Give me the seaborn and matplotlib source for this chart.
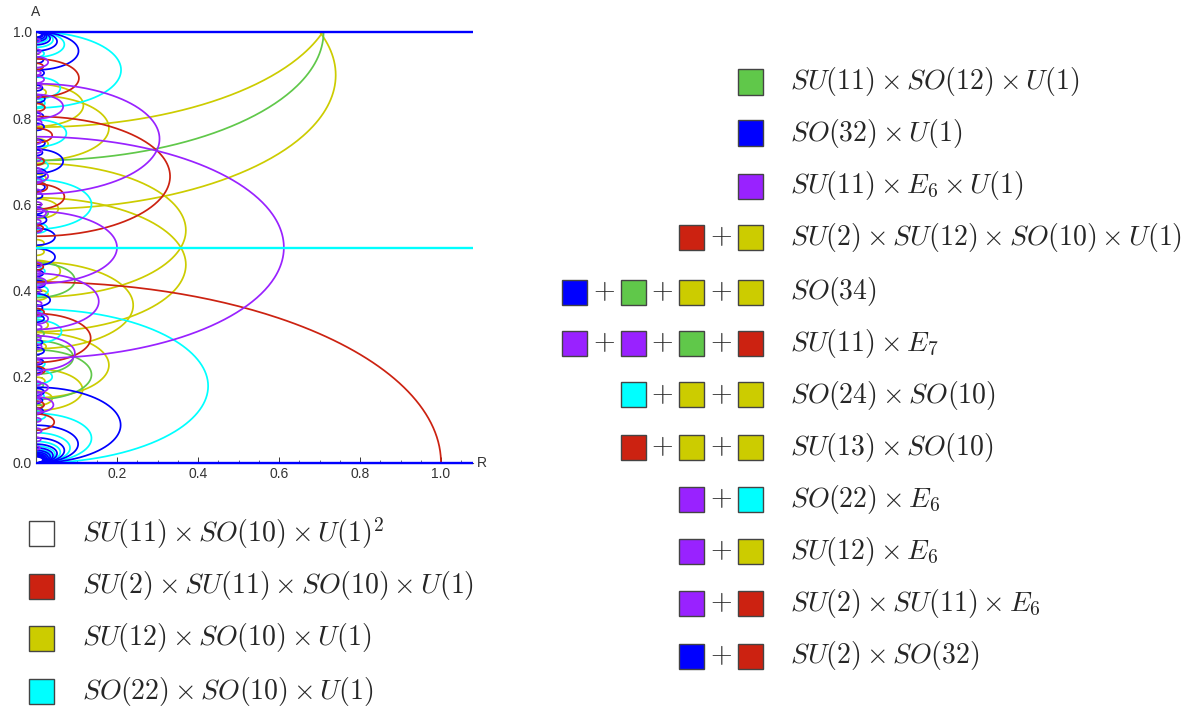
import numpy as np
import pandas as pd
import matplotlib
matplotlib.use("Agg")
import matplotlib.pyplot as plt
from matplotlib.patches import Rectangle
from matplotlib.ticker import MultipleLocator, FixedLocator
import seaborn as sns

# ---- data: (centre A, reach in R) of every half-ellipse ----
ASPECT = 0.42   # vertical half-axis / horizontal half-axis

blue_arcs = [
    (0.088, 0.209), (0.044, 0.104), (0.029, 0.070), (0.022, 0.052), (0.0176, 0.042),
    (0.0147, 0.035), (0.0126, 0.030), (0.011, 0.026), (0.0098, 0.023), (0.0088, 0.021),
    (0.008, 0.019), (0.0073, 0.017),
    (0.956, 0.105), (0.978, 0.052), (0.985, 0.035), (0.989, 0.026), (0.991, 0.021),
    (0.993, 0.017), (0.994, 0.014),
    (0.700, 0.067), (0.525, 0.047), (0.478, 0.047), (0.378, 0.035), (0.742, 0.022),
    (0.673, 0.025), (0.640, 0.022), (0.564, 0.026), (0.260, 0.020), (0.935, 0.018),
    (0.905, 0.020), (0.870, 0.016), (0.845, 0.022), (0.805, 0.018), (0.780, 0.020),
    (0.720, 0.016), (0.620, 0.016), (0.585, 0.018), (0.440, 0.018), (0.415, 0.022),
    (0.360, 0.016), (0.335, 0.020), (0.280, 0.016), (0.235, 0.018), (0.215, 0.016),
    (0.165, 0.020), (0.145, 0.016), (0.120, 0.018),
]
cyan_arcs = [
    (0.1785, 0.425), (0.0575, 0.137), (0.035, 0.084), (0.025, 0.060), (0.0197, 0.047),
    (0.016, 0.038), (0.0134, 0.032), (0.0113, 0.027), (0.0092, 0.022),
    (0.912, 0.210), (0.971, 0.070), (0.982, 0.042), (0.987, 0.030), (0.990, 0.024),
    (0.600, 0.137), (0.765, 0.075), (0.305, 0.063), (0.200, 0.040), (0.870, 0.060),
    (0.400, 0.030), (0.545, 0.028), (0.690, 0.030), (0.950, 0.020), (0.835, 0.022),
    (0.655, 0.020), (0.445, 0.022), (0.345, 0.020), (0.230, 0.022), (0.155, 0.020),
    (0.110, 0.024),
]
red_arcs = [
    (0.000, 1.000), (0.665, 0.331), (0.893, 0.106), (0.290, 0.135), (0.618, 0.070),
    (0.760, 0.040), (0.095, 0.045), (0.920, 0.018), (0.825, 0.022), (0.700, 0.020),
    (0.545, 0.018), (0.455, 0.018), (0.350, 0.020), (0.215, 0.022), (0.135, 0.020),
    (0.640, 0.028),
]
purple_arcs = [
    (0.500, 0.612), (0.752, 0.305), (0.500, 0.200), (0.375, 0.155), (0.255, 0.096),
    (0.827, 0.067), (0.135, 0.043), (0.930, 0.030), (0.665, 0.030), (0.335, 0.030),
    (0.580, 0.025), (0.420, 0.025), (0.175, 0.030), (0.890, 0.020),
    (0.980, 0.010), (0.955, 0.012), (0.905, 0.012), (0.875, 0.014), (0.850, 0.012),
    (0.810, 0.012), (0.790, 0.014), (0.745, 0.012), (0.725, 0.014), (0.705, 0.012),
    (0.680, 0.012), (0.655, 0.014), (0.630, 0.012), (0.600, 0.014), (0.560, 0.012),
    (0.540, 0.014), (0.460, 0.014), (0.440, 0.012), (0.400, 0.012), (0.370, 0.014),
    (0.345, 0.012), (0.315, 0.014), (0.290, 0.012), (0.270, 0.014), (0.235, 0.012),
    (0.210, 0.014), (0.185, 0.012), (0.160, 0.014), (0.145, 0.012), (0.120, 0.014),
    (0.100, 0.012), (0.075, 0.014), (0.055, 0.012), (0.035, 0.010),
]
green_arcs = [
    (1.000, 0.710), (0.424, 0.096), (0.205, 0.137), (0.245, 0.092), (0.580, 0.030),
    (0.700, 0.022), (0.830, 0.018), (0.300, 0.020), (0.180, 0.018), (0.130, 0.016),
    (0.420, 0.020),
]
yellow_arcs = [
    (0.900, 0.740), (1.090, 0.740), (0.540, 0.370), (0.460, 0.370), (0.366, 0.240),
    (0.227, 0.180), (0.830, 0.117), (0.777, 0.180), (0.170, 0.115), (0.590, 0.055),
    (0.445, 0.060), (0.150, 0.040), (0.860, 0.025), (0.740, 0.030), (0.660, 0.025),
    (0.510, 0.020), (0.490, 0.020), (0.390, 0.030), (0.320, 0.030), (0.270, 0.025),
    (0.190, 0.022),
]

flat_levels = [0.0, 0.5, 1.0]
flat_colors = ["blue", "cyan", "blue"]

colors = {
    "blue": "#0000FF", "cyan": "#00FFFF", "red": "#CC2211",
    "purple": "#9922FF", "green": "#60C84A", "yellow": "#CCCC00",
}

# right-hand legend: colour squares -> group
legend_right_boxes = [
    ["green"], ["blue"], ["purple"], ["red", "yellow"],
    ["blue", "green", "yellow", "yellow"], ["purple", "purple", "green", "red"],
    ["cyan", "yellow", "yellow"], ["red", "yellow", "yellow"],
    ["purple", "cyan"], ["purple", "yellow"], ["purple", "red"], ["blue", "red"],
]
legend_right_text = [
    r"$SU(11)\times SO(12)\times U(1)$",
    r"$SO(32)\times U(1)$",
    r"$SU(11)\times E_6\times U(1)$",
    r"$SU(2)\times SU(12)\times SO(10)\times U(1)$",
    r"$SO(34)$",
    r"$SU(11)\times E_7$",
    r"$SO(24)\times SO(10)$",
    r"$SU(13)\times SO(10)$",
    r"$SO(22)\times E_6$",
    r"$SU(12)\times E_6$",
    r"$SU(2)\times SU(11)\times E_6$",
    r"$SU(2)\times SO(32)$",
]
legend_left_boxes = ["white", "red", "yellow", "cyan"]
legend_left_text = [
    r"$SU(11)\times SO(10)\times U(1)^2$",
    r"$SU(2)\times SU(11)\times SO(10)\times U(1)$",
    r"$SU(12)\times SO(10)\times U(1)$",
    r"$SO(22)\times SO(10)\times U(1)$",
]

# ---- build the curves ----
arc_sets = {"yellow": yellow_arcs, "green": green_arcs, "cyan": cyan_arcs,
            "blue": blue_arcs, "red": red_arcs, "purple": purple_arcs}
t = np.linspace(-np.pi / 2, np.pi / 2, 241)
frames = []
for fam, arcs in arc_sets.items():
    for i, (c, a) in enumerate(arcs):
        frames.append(pd.DataFrame({
            "R": a * np.cos(t),
            "A": c + ASPECT * a * np.sin(t),
            "family": fam,
            "arc": f"{fam}{i}",
        }))
df = pd.concat(frames, ignore_index=True)

sns.set_style("ticks")
plt.rcParams["font.family"] = ["Liberation Sans", "DejaVu Sans"]
plt.rcParams["mathtext.fontset"] = "cm"

W, H = 1200, 706
fig = plt.figure(figsize=(W / 100, H / 100), dpi=100)
x_max = 1.079
ax = fig.add_axes([36 / W, (H - 463) / H, (473 - 36) / W, (463 - 32) / H])

sns.lineplot(data=df, x="R", y="A", hue="family", units="arc", estimator=None,
             sort=False, palette=colors, hue_order=list(arc_sets.keys()),
             legend=False, linewidth=1.25, ax=ax)
for lev, col in zip(flat_levels, flat_colors):
    ax.hlines(lev, 0, x_max, color=colors[col], lw=1.7, clip_on=False, zorder=5)

ax.set_xlim(0, x_max)
ax.set_ylim(0, 1)
ax.set_xlabel("")
ax.set_ylabel("")
sns.despine(ax=ax)
for s in ("left", "bottom"):
    ax.spines[s].set_linewidth(0.8)
    ax.spines[s].set_color("#555555")
ax.xaxis.set_major_locator(FixedLocator([0.2, 0.4, 0.6, 0.8, 1.0]))
ax.xaxis.set_minor_locator(MultipleLocator(0.05))
ax.yaxis.set_major_locator(MultipleLocator(0.2))
ax.yaxis.set_minor_locator(MultipleLocator(0.05))
ax.xaxis.set_major_formatter(lambda v, p: f"{v:.1f}")
ax.yaxis.set_major_formatter(lambda v, p: f"{v:.1f}")
ax.tick_params(which="major", direction="in", length=4, width=0.7,
               labelsize=10, colors="#333333", pad=3)
ax.tick_params(which="minor", direction="in", length=2, width=0.6, colors="#555555")
ax.text(0, 1.03, "A", transform=ax.transAxes, ha="center", va="bottom",
        fontsize=10, color="#333333")
ax.text(1.01, 0, "R", transform=ax.transAxes, ha="left", va="center",
        fontsize=10, color="#333333")

# ---- legends drawn in figure pixels ----
def px(x, y):
    return x / W, 1 - y / H

def square(x, yc, col):
    fig.add_artist(Rectangle(px(x, yc + 12.5), 25 / W, 25 / H,
                             transform=fig.transFigure, facecolor=colors.get(col, col),
                             edgecolor="#444444", lw=1.0))

slots = [562, 621, 679, 738]
row_y = [82, 133, 186, 237, 292, 343, 395, 447, 499, 551, 603, 656]
for yc, boxes, label in zip(row_y, legend_right_boxes, legend_right_text):
    xs = slots[len(slots) - len(boxes):]
    for j, (x, col) in enumerate(zip(xs, boxes)):
        square(x, yc, col)
        if j > 0:
            fig.text(*px(x - 17, yc), r"$+$", ha="center", va="center", fontsize=20)
    fig.text(*px(790, yc), label, ha="left", va="center", fontsize=20)

left_y = [533, 586, 638, 691]
for yc, col, label in zip(left_y, legend_left_boxes, legend_left_text):
    square(29, yc, col)
    fig.text(*px(82, yc), label, ha="left", va="center", fontsize=20)

fig.savefig("out.png", dpi=100)
